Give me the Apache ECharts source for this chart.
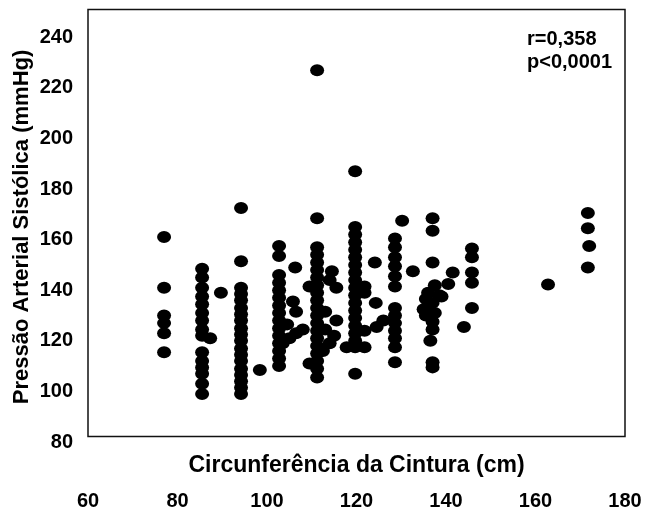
<!DOCTYPE html>
<html>
<head>
<meta charset="utf-8">
<script src="https://cdn.jsdelivr.net/npm/echarts@6/dist/echarts.min.js"></script>
<style>
html,body{margin:0;padding:0;background:#fff;}
#chart{width:650px;height:523px;}
</style>
</head>
<body>
<div id="chart"></div>
<script>
// Waist circumference (cm) and systolic blood pressure (mmHg)
const waistCm = [
  77,77,77,77,77,77,
  85.5,85.5,85.5,85.5,85.5,85.5,85.5,85.5,85.5,85.5,85.5,85.5,85.5,85.5,85.5,
  87.3,89.7,
  94.2,94.2,94.2,94.2,94.2,94.2,94.2,94.2,94.2,94.2,94.2,94.2,94.2,94.2,94.2,94.2,94.2,94.2,94.2,
  98.4,
  102.7,102.7,102.7,102.7,102.7,102.7,102.7,102.7,102.7,102.7,102.7,102.7,102.7,102.7,102.7,
  106.3,105.8,106.5,104.5,103.5,105,106.5,108,
  111.2,111.2,111.2,111.2,111.2,111.2,111.2,111.2,111.2,111.2,111.2,111.2,111.2,111.2,111.2,111.2,111.2,111.2,111.2,111.2,
  109.5,109.5,114.5,114,115.5,113,115.5,113,115,114,112.5,
  119.7,119.7,119.7,119.7,119.7,119.7,119.7,119.7,119.7,119.7,119.7,119.7,119.7,119.7,119.7,119.7,119.7,119.7,119.7,
  121.8,121.8,124.1,124.3,121.8,121.8,117.8,124.5,126,
  128.6,128.6,128.6,128.6,128.6,128.6,128.6,128.6,128.6,128.6,128.6,128.6,128.6,
  130.2,132.6,
  137,137,137,137.5,136,138.5,135.5,137,139,136,137.5,135.5,137,137,136.5,137,137,135,
  145.8,145.8,145.8,145.8,145.8,141.5,140.5,144,
  162.8,
  171.7,171.7,172,171.7
];
const systolicBP = [
  161,141,130,127,123,115.5,
  148.5,145,141,137.5,134.5,131,128,124.5,122,115.5,112,109.5,107,103,99,
  121,139,
  172.5,151.5,141,138.5,136,133,130.5,128,125,122.5,120,117,114.5,112,109,106.5,104,101.5,99,
  108.5,
  157.5,153.5,146,143,140,137,134,131,128,125,122,119,116,113,110,
  149,135.5,131.5,126.5,119,121,123,124.5,
  227,168.5,157,154,151,148,145,142,139,136,133,130,127,124,121,118,115,112,109,105.5,
  141.5,111,147.5,144,141,131.5,128,124.5,122,119,116,
  187,165,162,159,156,153,150,147,144,141,138,135,132,129,126,123,120,117.5,107,
  141.5,139,151,135,124,117.5,117.5,125.5,128,
  160.5,157,153,149.5,145.5,141.5,133,130,127,124,121,117.5,111.5,
  167.5,147.5,
  168.5,163.5,151,142,139,138,136.5,135,137.5,133,131,130,127.5,124.5,120,111.5,109.5,132.5,
  156.5,153,147,143,133,147,142.5,125.5,
  142.3,
  170.5,164.5,157.5,149
];
const xTicks = [60, 80, 100, 120, 140, 160, 180];
const yTicks = [80, 100, 120, 140, 160, 180, 200, 220, 240];
const xTitle = 'Circunferência da Cintura (cm)';
const yTitle = 'Pressão Arterial Sistólica (mmHg)';
const statLines = ['r=0,358', 'p<0,0001'];

const points = waistCm.map((x, i) => [x, systolicBP[i]]);
const FONT = '"Liberation Sans", Arial, sans-serif';

const chart = echarts.init(document.getElementById('chart'), null, {renderer: 'canvas'});
chart.setOption({
  animation: false,
  backgroundColor: '#fff',
  grid: {left: 88, right: 25, top: 12, bottom: 81, containLabel: false, outerBoundsMode: 'none'},
  xAxis: {
    type: 'value',
    min: xTicks[0], max: xTicks[xTicks.length - 1], interval: 20,
    name: xTitle, nameLocation: 'middle', nameGap: 12, nameMoveOverlap: false,
    nameTextStyle: {fontFamily: FONT, fontWeight: 'bold', fontSize: 23, color: '#000'},
    axisLine: {show: false}, axisTick: {show: false}, splitLine: {show: false},
    axisLabel: {margin: 49, fontFamily: FONT, fontWeight: 'bold', fontSize: 20, color: '#000'}
  },
  yAxis: {
    type: 'value',
    min: yTicks[0], max: 250, interval: 20,
    name: yTitle, nameLocation: 'middle', nameGap: 55, nameRotate: 90, nameMoveOverlap: false,
    nameTextStyle: {fontFamily: FONT, fontWeight: 'bold', fontSize: 22, color: '#000'},
    axisLine: {show: false}, axisTick: {show: false}, splitLine: {show: false},
    axisLabel: {margin: 15, showMaxLabel: false, fontFamily: FONT, fontWeight: 'bold', fontSize: 20, color: '#000'}
  },
  graphic: [
    {type: 'rect', shape: {x: 88, y: 9.5, width: 537, height: 427},
     style: {fill: null, stroke: '#111', lineWidth: 1.5}, silent: true},
    {type: 'text', left: 527, top: 29, style: {text: statLines[0], font: 'bold 20px ' + FONT, fill: '#000'}},
    {type: 'text', left: 527, top: 52, style: {text: statLines[1], font: 'bold 20px ' + FONT, fill: '#000'}}
  ],
  series: [{
    type: 'scatter',
    data: points,
    symbol: 'circle',
    symbolSize: [14, 12],
    itemStyle: {color: '#000', opacity: 1}
  }]
});
</script>
</body>
</html>
